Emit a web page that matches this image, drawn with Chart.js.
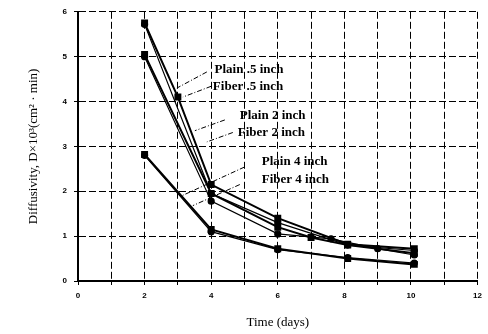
<!DOCTYPE html>
<html>
<head>
<meta charset="utf-8">
<script src="https://cdn.jsdelivr.net/npm/chart.js@4"></script>
<style>
  body { margin: 0; background: #fff; }
  #wrap { width: 488px; height: 334px; }
</style>
</head>
<body>
<div id="wrap"><canvas id="myChart"></canvas></div>
<script>
// values (days, diffusivity x 10^3)
const plainHalfDays = [2, 3, 4, 6, 8.1, 10.1];
const plainHalf = [5.75, 4.1, 2.15, 1.4, 0.82, 0.72];
const fiberHalfDays = [2, 4, 6, 8.1, 10.1];
const fiberHalf = [5.72, 1.95, 1.3, 0.8, 0.68];
const plain2Days = [2, 4, 6, 7, 8.1, 10.1];
const plain2 = [5.05, 1.95, 1.2, 0.97, 0.8, 0.62];
const fiber2Days = [2, 4, 6, 7.6, 9, 10.1];
const fiber2 = [5.0, 1.78, 1.05, 0.94, 0.72, 0.58];
const plain4Days = [2, 4, 6, 8.1, 10.1];
const plain4 = [2.82, 1.15, 0.72, 0.5, 0.37];
const fiber4Days = [2, 4, 6, 8.1, 10.1];
const fiber4 = [2.8, 1.1, 0.7, 0.52, 0.4];

const seriesNames = ['Plain .5 inch', 'Fiber .5 inch', 'Plain 2 inch', 'Fiber 2 inch', 'Plain 4 inch', 'Fiber 4 inch'];
const xTicks = [0, 2, 4, 6, 8, 10, 12];
const yTicks = [0, 1, 2, 3, 4, 5, 6];

// label text anchors and leader lines, in data units
const labelPos = [[4.1, 4.72], [4.05, 4.34], [4.86, 3.68], [4.8, 3.31], [5.52, 2.65], [5.52, 2.26]];
const leaders = [
    [[3.87, 4.66], [2.97, 4.3]],
    [[4.0, 4.34], [3.15, 4.1]],
    [[4.41, 3.59], [3.51, 3.35]],
    [[4.65, 3.31], [3.87, 3.1]],
    [[5.0, 2.54], [3.12, 1.9]],
    [[4.86, 2.15], [3.45, 1.68]]
];

const pairs = (xs, ys) => xs.map((x, i) => ({x: x, y: ys[i]}));

const makeSet = (i, xs, ys) => {
    const plain = i % 2 === 0;
    return {
        label: seriesNames[i],
        data: pairs(xs, ys),
        borderColor: '#000',
        backgroundColor: '#000',
        borderWidth: plain ? 2 : 1.2,
        pointStyle: plain ? 'rect' : 'circle',
        pointRadius: plain ? 3.5 : 3,
        tension: 0
    };
};

const labelPlugin = {
    id: 'labels',
    afterDatasetsDraw(chart) {
        const c = chart.ctx;
        const xs = chart.scales.x, ys = chart.scales.y;
        c.save();
        c.strokeStyle = '#000';
        c.lineWidth = 1;
        c.setLineDash([5, 2, 1, 2]);
        leaders.forEach(l => {
            c.beginPath();
            c.moveTo(xs.getPixelForValue(l[0][0]), ys.getPixelForValue(l[0][1]));
            c.lineTo(xs.getPixelForValue(l[1][0]), ys.getPixelForValue(l[1][1]));
            c.stroke();
        });
        c.setLineDash([]);
        c.fillStyle = '#000';
        c.font = 'bold 13px "Liberation Serif"';
        c.textBaseline = 'middle';
        c.textAlign = 'left';
        labelPos.forEach((p, i) => {
            c.fillText(seriesNames[i], xs.getPixelForValue(p[0]), ys.getPixelForValue(p[1]));
        });
        c.restore();
    }
};

const ctx = document.getElementById('myChart');

new Chart(ctx, {
    type: 'line',
    data: {
        datasets: [
            makeSet(0, plainHalfDays, plainHalf),
            makeSet(1, fiberHalfDays, fiberHalf),
            makeSet(2, plain2Days, plain2),
            makeSet(3, fiber2Days, fiber2),
            makeSet(4, plain4Days, plain4),
            makeSet(5, fiber4Days, fiber4)
        ]
    },
    options: {
        responsive: true,
        maintainAspectRatio: false,
        animation: false,
        layout: { padding: { left: 0, top: 7, right: 10, bottom: 0 } },
        plugins: { legend: { display: false }, tooltip: { enabled: false } },
        scales: {
            x: {
                type: 'linear',
                min: 0,
                max: 12,
                afterBuildTicks: s => { s.ticks = Array.from({length: 13}, (_, i) => ({value: i})); },
                afterFit: s => { s.height = 53; },
                ticks: {
                    color: '#000',
                    font: { size: 8, weight: 'bold', family: 'Liberation Sans' },
                    padding: 6,
                    maxRotation: 0,
                    autoSkip: false,
                    callback: v => xTicks.includes(v) ? String(v) : ''
                },
                grid: { color: '#000', lineWidth: 1, tickLength: 4 },
                border: { color: '#000', width: 2, dash: [7, 3] },
                title: {
                    display: true,
                    text: 'Time (days)',
                    color: '#000',
                    font: { size: 13, family: 'Liberation Serif' },
                    padding: { top: 0, bottom: 4 }
                }
            },
            y: {
                type: 'linear',
                min: 0,
                max: 6,
                afterBuildTicks: s => { s.ticks = yTicks.map(v => ({value: v})); },
                afterFit: s => { s.width = 78; },
                ticks: {
                    color: '#000',
                    font: { size: 8, weight: 'bold', family: 'Liberation Sans' },
                    padding: 7
                },
                grid: { color: '#000', lineWidth: 1, tickLength: 4 },
                border: { color: '#000', width: 2, dash: [7, 3] },
                title: {
                    display: true,
                    text: 'Diffusivity, D\u00d710\u00b3(cm\u00b2 \u00b7 min)',
                    color: '#000',
                    font: { size: 13, family: 'Liberation Serif' },
                    padding: { top: 26, bottom: 0 }
                }
            }
        }
    },
    plugins: [labelPlugin]
});
</script>
</body>
</html>
